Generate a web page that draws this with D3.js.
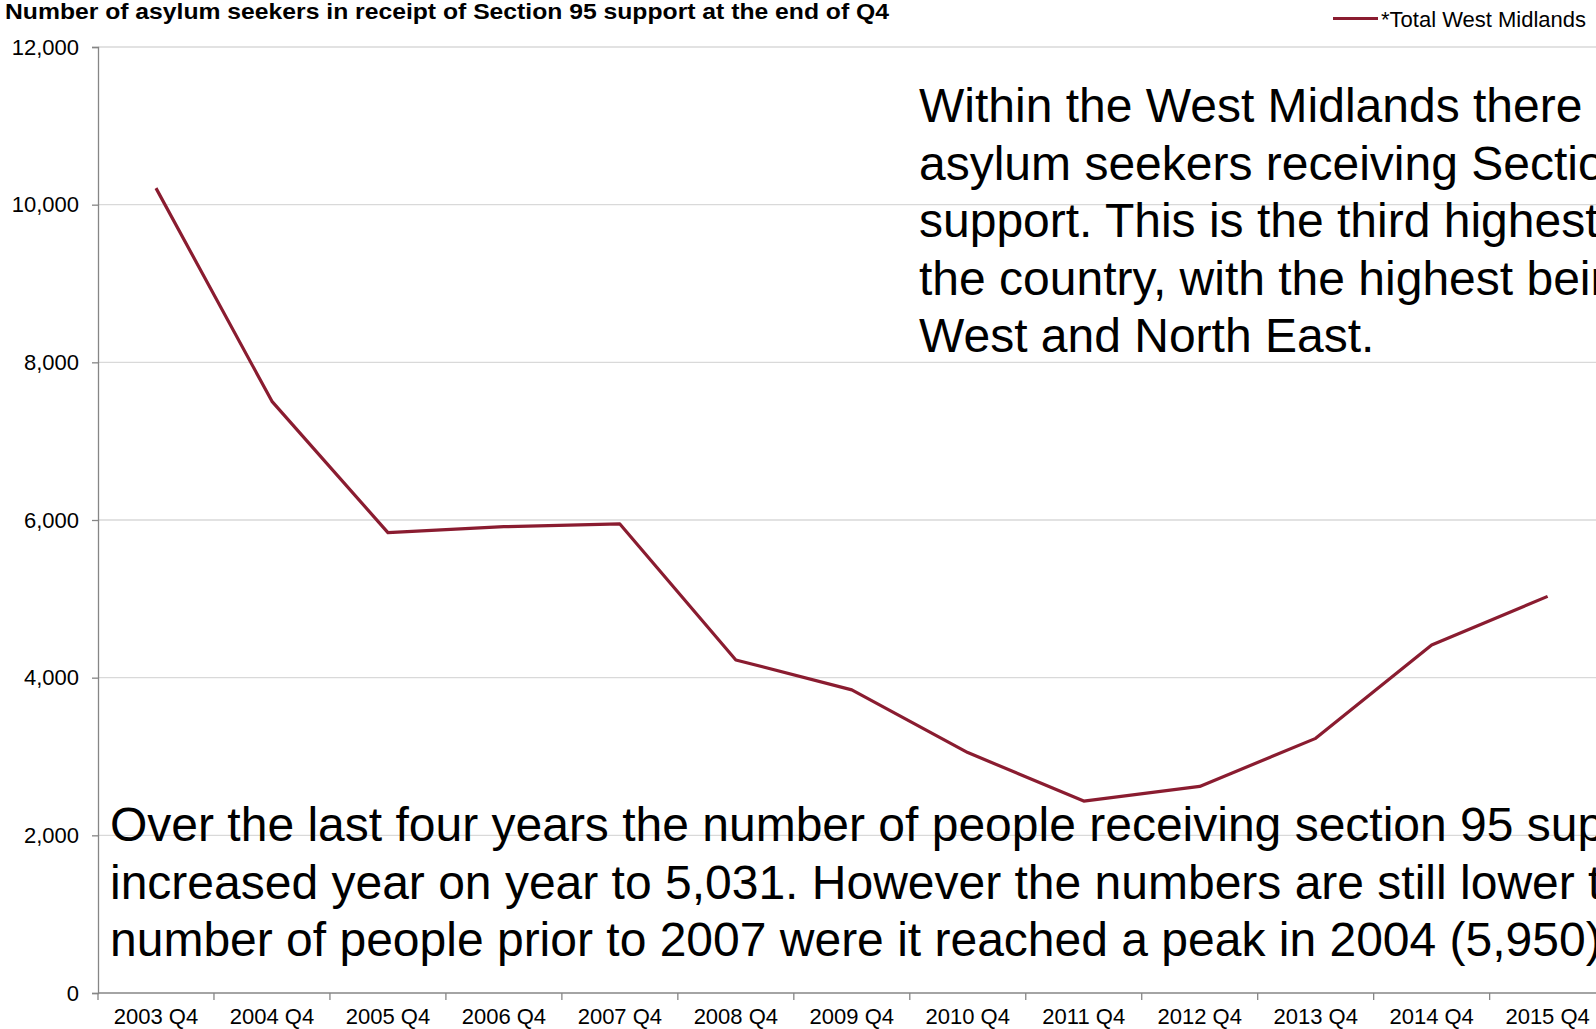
<!DOCTYPE html>
<html>
<head>
<meta charset="utf-8">
<script src="https://cdn.jsdelivr.net/npm/d3@7"></script>
<style>
  html, body { margin: 0; padding: 0; background: #fff; overflow: hidden; }
  svg { display: block; font-family: "Liberation Sans", Arial, sans-serif; }
</style>
</head>
<body>
<div id="chart"></div>
<script>
// data
var categories = ["2003 Q4", "2004 Q4", "2005 Q4", "2006 Q4", "2007 Q4", "2008 Q4", "2009 Q4",
                  "2010 Q4", "2011 Q4", "2012 Q4", "2013 Q4", "2014 Q4", "2015 Q4"];
var westMidlands = [10210, 7505, 5840, 5915, 5950, 4225, 3845, 3050, 2435, 2620, 3230, 4415, 5031];
var yTicks = [0, 2000, 4000, 6000, 8000, 10000, 12000];
var seriesName = "*Total West Midlands";
var titleText = "Number of asylum seekers in receipt of Section 95 support at the end of Q4";
// the original text boxes run off the right edge of the picture
var noteTop = ["Within the West Midlands there",
               "asylum seekers receiving Section",
               "support. This is the third highest",
               "the country, with the highest being",
               "West and North East."];
var noteBottom = ["Over the last four years the number of people receiving section 95 support",
                  "increased year on year to 5,031. However the numbers are still lower than",
                  "number of people prior to 2007 were it reached a peak in 2004 (5,950)"];

var width = 1596, height = 1029;
var lineColor = "#8a1c30";

var svg = d3.select("#chart")
  .append("svg")
    .attr("width", width)
    .attr("height", height);

// scales - plot runs a little past the right edge like the original
var x = d3.scaleBand()
  .domain(categories)
  .range([98, 1605.6]);

var y = d3.scaleLinear()
  .domain([0, 12000])
  .range([993, 47]);

// gridlines
svg.append("g")
  .selectAll("line")
  .data(yTicks.filter(function(d) { return d > 0; }))
  .enter()
  .append("line")
    .attr("x1", 98)
    .attr("x2", width)
    .attr("y1", function(d) { return y(d); })
    .attr("y2", function(d) { return y(d); })
    .attr("stroke", "#d9d9d9")
    .attr("stroke-width", 1.3);

// y axis
var yAxis = svg.append("g")
  .attr("transform", "translate(98,0)")
  .call(d3.axisLeft(y).tickValues(yTicks).tickFormat(d3.format(",")).tickSize(6).tickPadding(13));
yAxis.select(".domain").attr("stroke", "#868686").attr("stroke-width", 1.3);
yAxis.selectAll(".tick line").attr("stroke", "#868686").attr("stroke-width", 1.3);
yAxis.selectAll("text")
  .attr("fill", "#000")
  .style("font-size", "22px")
  .style("font-family", "'Liberation Sans', Arial, sans-serif");

// x axis: labels in the band centres, ticks on the band edges
var xAxis = svg.append("g")
  .attr("transform", "translate(0,993)")
  .call(d3.axisBottom(x).tickSize(0).tickPadding(0));
xAxis.select(".domain").remove();
xAxis.selectAll("text")
  .attr("dy", null)
  .attr("y", 31)
  .attr("fill", "#000")
  .style("font-size", "22px")
  .style("font-family", "'Liberation Sans', Arial, sans-serif");

var edges = categories.map(function(c) { return x(c); });
xAxis.append("line")
  .attr("x1", 98).attr("x2", width)
  .attr("y1", 0).attr("y2", 0)
  .attr("stroke", "#868686")
  .attr("stroke-width", 1.3);
xAxis.selectAll(".edge")
  .data(edges)
  .enter()
  .append("line")
    .attr("class", "edge")
    .attr("x1", function(d) { return d; })
    .attr("x2", function(d) { return d; })
    .attr("y1", 0)
    .attr("y2", 7)
    .attr("stroke", "#868686")
    .attr("stroke-width", 1.3);

// the line
var line = d3.line()
  .x(function(d, i) { return x(categories[i]) + x.bandwidth() / 2; })
  .y(function(d) { return y(d); });

svg.append("path")
  .datum(westMidlands)
  .attr("d", line)
  .attr("fill", "none")
  .attr("stroke", lineColor)
  .attr("stroke-width", 3.2)
  .attr("stroke-linejoin", "round");

// title
svg.append("text")
  .attr("x", 5)
  .attr("y", 18.5)
  .attr("textLength", 884)
  .attr("lengthAdjust", "spacingAndGlyphs")
  .style("font-size", "22px")
  .style("font-weight", "bold")
  .text(titleText);

// legend
svg.append("line")
  .attr("x1", 1333).attr("x2", 1378)
  .attr("y1", 18.5).attr("y2", 18.5)
  .attr("stroke", lineColor)
  .attr("stroke-width", 3.2);
svg.append("text")
  .attr("x", 1381)
  .attr("y", 26.5)
  .style("font-size", "22px")
  .text(seriesName);

// annotations
function note(lines, x0, y0) {
  var t = svg.append("text")
    .style("font-size", "48px")
    .attr("fill", "#000");
  t.selectAll("tspan")
    .data(lines)
    .enter()
    .append("tspan")
      .attr("x", x0)
      .attr("y", function(d, i) { return y0 + i * 57.5; })
      .text(function(d) { return d; });
}
note(noteTop, 919, 122);
note(noteBottom, 110, 841);
</script>
</body>
</html>
